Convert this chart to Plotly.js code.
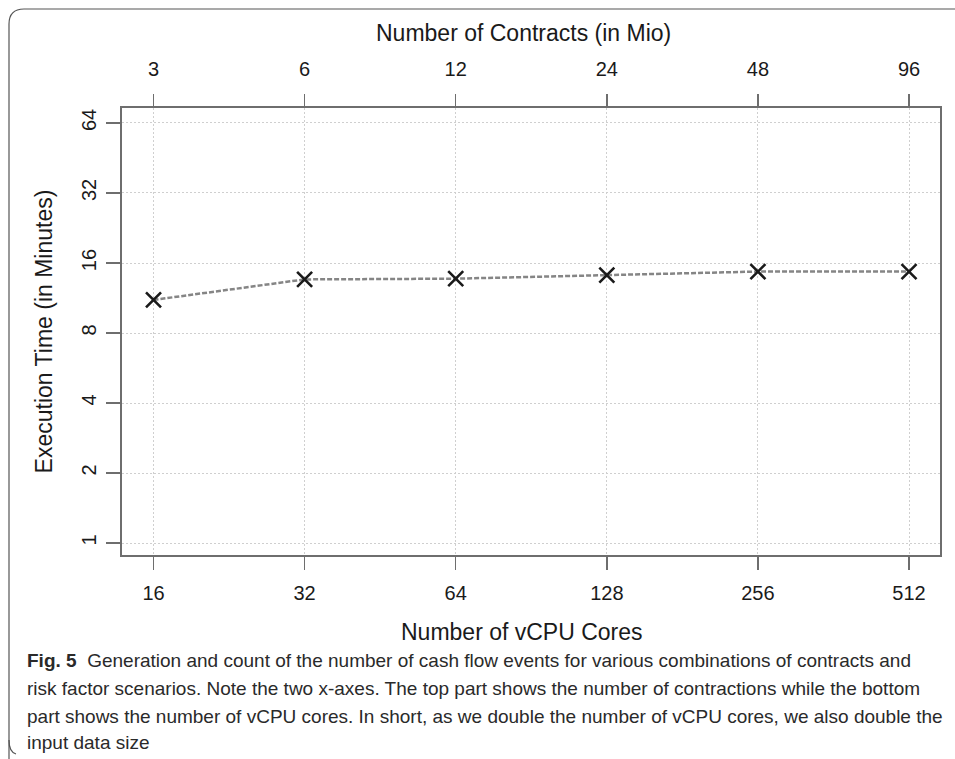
<!DOCTYPE html>
<html>
<head>
<meta charset="utf-8">
<script src="https://cdn.plot.ly/plotly-3.0.1.min.js"></script>
<style>
html,body{margin:0;padding:0;background:#fff;}
#chart{width:955px;height:759px;}
</style>
</head>
<body>
<div id="chart"></div>
<script>
// ---- data ----
const vcpuCores = [16, 32, 64, 128, 256, 512];
const contractsMio = [3, 6, 12, 24, 48, 96];
const execMinutes = [11.1, 13.6, 13.7, 14.2, 14.7, 14.7];
const yTickVals = [1, 2, 4, 8, 16, 32, 64];

const xTitleBottom = 'Number of vCPU Cores';
const xTitleTop = 'Number of Contracts (in Mio)';
const yTitle = 'Execution Time (in Minutes)';
const captionLines = [
  '<b>Fig. 5</b>  Generation and count of the number of cash flow events for various combinations of contracts and',
  'risk factor scenarios. Note the two x-axes. The top part shows the number of contractions while the bottom',
  'part shows the number of vCPU cores. In short, as we double the number of vCPU cores, we also double the',
  'input data size'
];

// ---- layout geometry (pixels) ----
const W = 955, H = 759;
const L = 122, R = 940, T = 108, B = 555;
const pw = R - L, ph = B - T;
const px = x => (x - L) / pw;
const py = y => (B - y) / ph;

const log2lo = 3.7915, log2hi = 9.205;
const xRange = [log2lo * Math.LN2 / Math.LN10, log2hi * Math.LN2 / Math.LN10];
const shift = Math.log10(vcpuCores[0] / contractsMio[0]);
const x2Range = [xRange[0] - shift, xRange[1] - shift];
const yRange = [-0.171 * Math.LN2 / Math.LN10, 6.214 * Math.LN2 / Math.LN10];

const fontMain = 'Liberation Sans, Arial, sans-serif';
const axisCol = '#6e6e6e';
const gridCol = '#cfcfcf';
const txtCol = '#1a1a1a';

const traces = [
  {
    x: vcpuCores, y: execMinutes, type: 'scatter', mode: 'lines+markers',
    xaxis: 'x', yaxis: 'y',
    line: {color: '#858585', width: 2.5, dash: '5px,2px'},
    marker: {symbol: 'x-thin-open', size: 15, line: {color: txtCol, width: 2.6}, color: txtCol},
    hoverinfo: 'x+y', showlegend: false
  },
  {
    x: contractsMio, y: execMinutes, type: 'scatter', mode: 'markers',
    xaxis: 'x2', yaxis: 'y',
    marker: {opacity: 0, size: 1}, hoverinfo: 'skip', showlegend: false
  }
];

const captionAnnots = captionLines.map((t, i) => ({
  text: t, xref: 'paper', yref: 'paper',
  x: px(25), y: py([660, 688, 716, 742][i]),
  xanchor: 'left', yanchor: 'middle', align: 'left', showarrow: false,
  font: {family: 'Liberation Sans Narrow, Liberation Sans, sans-serif', size: 19, color: '#2a2a2a'}
}));

const titleAnnots = [
  {text: xTitleTop, x: px(523), y: py(33)},
  {text: xTitleBottom, x: px(522), y: py(632)}
].map(a => Object.assign(a, {
  xref: 'paper', yref: 'paper', xanchor: 'center', yanchor: 'middle', showarrow: false,
  font: {family: fontMain, size: 23, color: txtCol}
}));

const framePath = `M ${px(9)} ${py(759)} L ${px(9)} ${py(24)} Q ${px(9)} ${py(9)} ${px(24)} ${py(9)} L ${px(955)} ${py(9)}`;
const frameBottom = `M ${px(9)} ${py(740)} Q ${px(9)} ${py(752)} ${px(16)} ${py(754)}`;

const layout = {
  width: W, height: H,
  margin: {l: L, r: W - R, t: T, b: H - B, pad: 0},
  paper_bgcolor: '#fff', plot_bgcolor: '#fff',
  font: {family: fontMain, size: 20, color: txtCol},
  xaxis: {
    type: 'log', range: xRange, tickvals: vcpuCores, ticktext: vcpuCores.map(String),
    showline: true, mirror: true, linecolor: axisCol, linewidth: 2,
    ticks: 'outside', ticklen: 13, tickwidth: 1.5, tickcolor: axisCol,
    ticklabelstandoff: 6,
    showgrid: true, gridcolor: gridCol, gridwidth: 1, griddash: '2px,2px',
    zeroline: false, tickfont: {size: 20, color: txtCol},
    automargin: false
  },
  xaxis2: {
    type: 'log', range: x2Range, overlaying: 'x', side: 'top', anchor: 'y',
    tickvals: contractsMio, ticktext: contractsMio.map(String),
    showline: true, linecolor: axisCol, linewidth: 2,
    ticks: 'outside', ticklen: 12, tickwidth: 1.5, tickcolor: axisCol,
    ticklabelstandoff: 10,
    showgrid: false, zeroline: false, tickfont: {size: 20, color: txtCol},
    automargin: false
  },
  yaxis: {
    type: 'log', range: yRange, tickvals: yTickVals, ticktext: yTickVals.map(String),
    tickangle: -90,
    showline: true, mirror: true, linecolor: axisCol, linewidth: 2,
    ticks: 'outside', ticklen: 14, tickwidth: 1.5, tickcolor: axisCol,
    ticklabelstandoff: 2,
    showgrid: true, gridcolor: gridCol, gridwidth: 1, griddash: '2px,2px',
    zeroline: false, tickfont: {size: 20, color: txtCol},
    title: {text: yTitle, font: {size: 23, color: txtCol}, standoff: 19},
    automargin: false
  },
  annotations: titleAnnots.concat(captionAnnots),
  shapes: [
    {type: 'path', xref: 'paper', yref: 'paper', path: framePath, line: {color: '#555', width: 1.2}, layer: 'below'},
    {type: 'path', xref: 'paper', yref: 'paper', path: frameBottom, line: {color: '#555', width: 1.2}, layer: 'below'}
  ],
  showlegend: false
};

Plotly.newPlot('chart', traces, layout, {displayModeBar: false, staticPlot: true});
</script>
</body>
</html>
